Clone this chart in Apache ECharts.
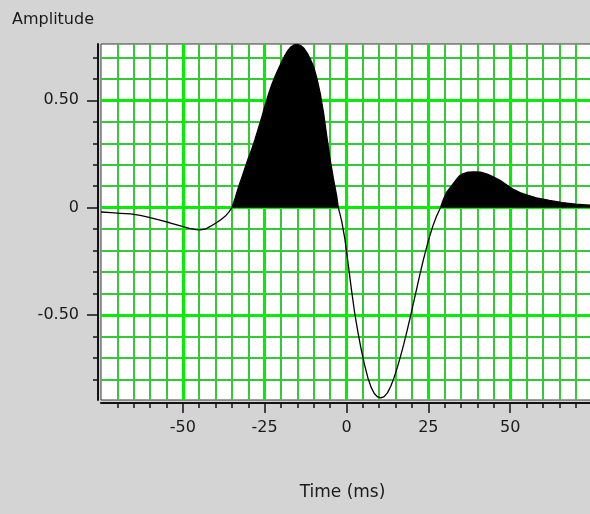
<!DOCTYPE html>
<html>
<head>
<meta charset="utf-8">
<script src="https://cdn.jsdelivr.net/npm/echarts@6/dist/echarts.min.js"></script>
<style>
html,body{margin:0;padding:0;background:#d4d4d4;}
#c{width:590px;height:514px;}
</style>
</head>
<body>
<div id="c"></div>
<script>
// ---- data ----
const timesMs = [-75,-72,-69,-66,-63,-60,-57,-54,-51,-48,-46,-44.5,-43,-41.5,-40,-38.5,-37,-36,-35,
  -34,-33,-32,-31,-30,-29,-28,-27,-26,-25,-24,-23,-22,-21,-20,-19,-18,-17,-16,-15,-14,-13,-12,-11,-10,
  -9,-8,-7,-6,-5,-4,-3,-2.5,-1.5,-0.5,0.5,1.5,2.5,3.5,4.5,5.5,6.5,7.5,8.5,9.5,10.5,11.5,12.5,13.5,14.5,
  15.5,16.5,17.5,18.5,19.5,20.5,21.5,22.5,23.5,24.5,25.5,26.5,27.5,28.7,29.5,30.5,31.5,32.5,33.5,34.5,
  35.5,37,39,41,43,45,47,49,51,53,55,58,62,66,70,75];
const amplitudes = [-0.020,-0.023,-0.026,-0.029,-0.036,-0.046,-0.058,-0.070,-0.083,-0.096,-0.102,-0.103,-0.099,-0.086,-0.072,-0.057,-0.039,-0.022,0,
  0.045,0.095,0.14,0.185,0.23,0.27,0.315,0.365,0.415,0.47,0.52,0.565,0.605,0.64,0.672,0.703,0.73,0.748,0.758,0.76,0.755,0.742,0.72,0.69,0.655,
  0.60,0.53,0.44,0.33,0.225,0.135,0.055,0,-0.06,-0.145,-0.26,-0.38,-0.49,-0.58,-0.66,-0.73,-0.79,-0.835,-0.865,-0.881,-0.885,-0.879,-0.862,-0.832,-0.792,
  -0.745,-0.692,-0.635,-0.573,-0.508,-0.441,-0.373,-0.306,-0.242,-0.182,-0.128,-0.08,-0.04,0,0.035,0.07,0.09,0.11,0.13,0.148,
  0.158,0.165,0.167,0.166,0.156,0.143,0.126,0.105,0.085,0.07,0.06,0.046,0.034,0.024,0.017,0.011];

const xMinorTicks = [-70,-65,-60,-55,-50,-45,-40,-35,-30,-25,-20,-15,-10,-5,0,5,10,15,20,25,30,35,40,45,50,55,60,65,70];
const xMajorTicks = [-50,-25,0,25,50];
const yMinorTicks = [-0.8,-0.7,-0.6,-0.5,-0.4,-0.3,-0.2,-0.1,0,0.1,0.2,0.3,0.4,0.5,0.6,0.7];
const yMajorTicks = [-0.5,0,0.5];
const yTickLabels = ['-0.50','0','0.50'];
const xRange = [-75, 75];
const yRange = [-0.895, 0.762];

// ---- chart ----
const FONT = 'DejaVu Sans';
const TXT = '#1a1a1a';
const lineData = timesMs.map((t, i) => [t, amplitudes[i]]);
const posData = timesMs.map((t, i) => [t, amplitudes[i] > 0 ? amplitudes[i] : 0]);

const minorSplit = {show: true, lineStyle: {color: '#35c935', width: 2}};
const majorSplit = {show: true, lineStyle: {color: '#00f000', width: 3}};

const chart = echarts.init(document.getElementById('c'), null, {renderer: 'canvas'});
chart.setOption({
  backgroundColor: '#d4d4d4',
  animation: false,
  textStyle: {fontFamily: FONT},
  title: {
    text: 'Amplitude', left: 12, top: 12, padding: 0,
    textStyle: {fontFamily: FONT, fontSize: 16, fontWeight: 'normal', color: TXT}
  },
  grid: {
    left: 101, top: 44, right: -2, bottom: 114,
    show: true, backgroundColor: '#ffffff', borderColor: '#3a3a3a', borderWidth: 1,
    containLabel: false, outerBoundsMode: 'none'
  },
  xAxis: [
    {
      type: 'value', min: xRange[0], max: xRange[1], position: 'bottom', offset: 3,
      axisLine: {show: true, onZero: false, lineStyle: {color: '#111', width: 2}},
      axisTick: {show: true, length: 5, customValues: xMinorTicks, lineStyle: {color: '#111', width: 1.5}},
      axisLabel: {show: false},
      splitLine: minorSplit
    },
    {
      type: 'value', min: xRange[0], max: xRange[1], position: 'bottom', offset: 3,
      axisLine: {show: false, onZero: false},
      axisTick: {show: true, length: 10, customValues: xMajorTicks, lineStyle: {color: '#111', width: 1.5}},
      axisLabel: {show: true, customValues: xMajorTicks, margin: 17, fontFamily: FONT, fontSize: 16, color: TXT},
      splitLine: majorSplit,
      name: 'Time (ms)', nameLocation: 'middle', nameGap: 81,
      nameTextStyle: {fontFamily: FONT, fontSize: 17, color: TXT, padding: [0, 8, 0, 0]}
    }
  ],
  yAxis: [
    {
      type: 'value', min: yRange[0], max: yRange[1], position: 'left', offset: 3,
      axisLine: {show: true, onZero: false, lineStyle: {color: '#111', width: 2}},
      axisTick: {show: true, length: 5, customValues: yMinorTicks, lineStyle: {color: '#111', width: 1.5}},
      axisLabel: {show: false},
      splitLine: minorSplit
    },
    {
      type: 'value', min: yRange[0], max: yRange[1], position: 'left', offset: 3,
      axisLine: {show: false, onZero: false},
      axisTick: {show: true, length: 11, customValues: yMajorTicks, lineStyle: {color: '#111', width: 1.5}},
      axisLabel: {
        show: true, customValues: yMajorTicks, margin: 19, fontFamily: FONT, fontSize: 16, color: TXT,
        formatter: function (v) {
          const i = yMajorTicks.findIndex(m => Math.abs(m - v) < 1e-9);
          return i >= 0 ? yTickLabels[i] : '';
        }
      },
      splitLine: majorSplit
    }
  ],
  series: [
    {
      type: 'line', name: 'fill', data: posData, xAxisIndex: 0, yAxisIndex: 0,
      showSymbol: false, symbol: 'none', smooth: false, silent: true,
      lineStyle: {width: 0, color: '#000'},
      areaStyle: {color: '#000', opacity: 1},
      z: 3
    },
    {
      type: 'line', name: 'wavelet', data: lineData, xAxisIndex: 0, yAxisIndex: 0,
      showSymbol: false, symbol: 'none', smooth: false, silent: true,
      lineStyle: {width: 1.3, color: '#000'},
      z: 4
    }
  ]
});
</script>
</body>
</html>
